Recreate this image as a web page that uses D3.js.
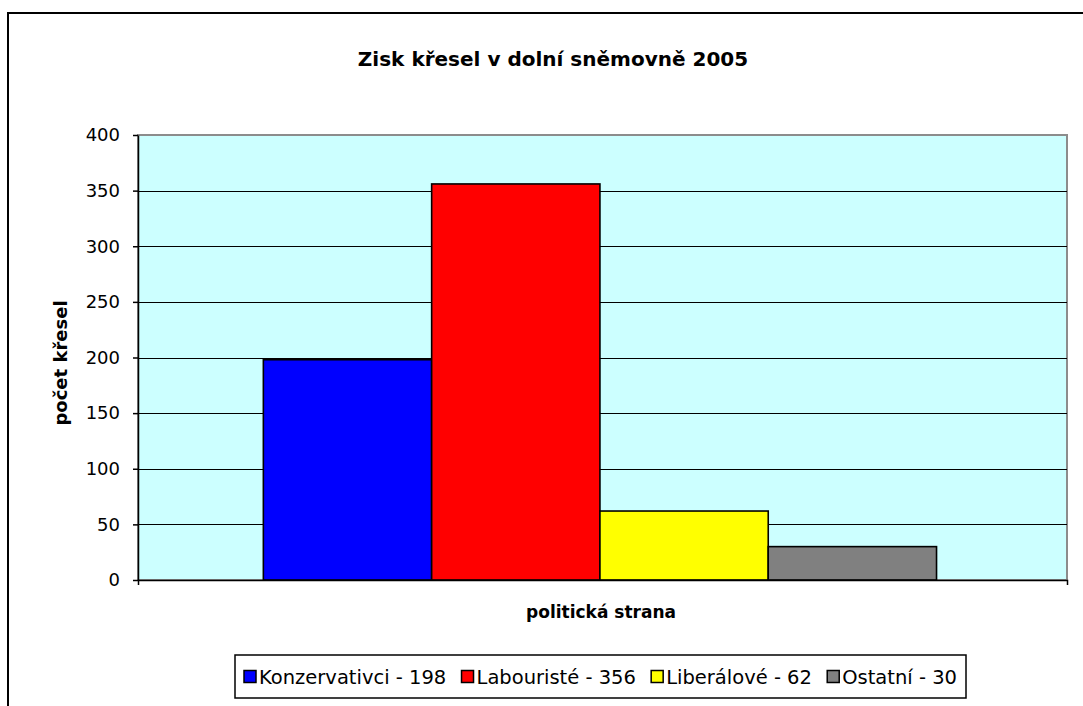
<!DOCTYPE html>
<html>
<head>
<meta charset="utf-8">
<script src="https://cdn.jsdelivr.net/npm/d3@7"></script>
<style>
    body { margin: 0; background: #fff; }
    text { font-family: "DejaVu Sans", sans-serif; fill: #000; }
</style>
</head>
<body>
<svg id="svg1" width="1083" height="706"></svg>
<script>
var parties = ["Konzervativci", "Labouristé", "Liberálové", "Ostatní"];
var seats = [198, 356, 62, 30];
var partyColors = ["#0000ff", "#ff0000", "#ffff00", "#808080"];
var categories = ["2005"];
var yTicks = [0, 50, 100, 150, 200, 250, 300, 350, 400];

var data = parties.map(function (p, i) {
    return { party: p, seats: seats[i], color: partyColors[i] };
});

var svg = d3.select("#svg1"),
    plot = { left: 138, right: 1067, top: 135, bottom: 580 };

// outer chart frame (cut off at right and bottom like the original)
svg.append("rect")
    .attr("x", 8).attr("y", 13)
    .attr("width", 1100).attr("height", 720)
    .attr("fill", "#fff")
    .attr("stroke", "#000")
    .attr("stroke-width", 2);

var y = d3.scaleLinear()
    .domain([0, 400])
    .range([plot.bottom, plot.top]);

var xCat = d3.scaleBand()
    .domain(categories)
    .range([plot.left, plot.right]);

var x = d3.scaleBand()
    .domain(parties)
    .range([plot.left, plot.right])
    .paddingInner(0)
    .paddingOuter(0.76)
    .align(0.49);

// plot background
svg.append("rect")
    .attr("x", plot.left)
    .attr("y", plot.top)
    .attr("width", plot.right - plot.left)
    .attr("height", plot.bottom - plot.top)
    .attr("fill", "#ccffff")
    .attr("stroke", "#8c8c8c")
    .attr("stroke-width", 2);

// gridlines
svg.append("g")
    .selectAll("line")
    .data(yTicks.filter(function (d) { return d > 0 && d < 400; }))
    .enter().append("line")
    .attr("x1", plot.left)
    .attr("x2", plot.right)
    .attr("y1", function (d) { return Math.round(y(d)) + 0.5; })
    .attr("y2", function (d) { return Math.round(y(d)) + 0.5; })
    .attr("stroke", "#000")
    .attr("stroke-width", 1);

// bars
svg.append("g")
    .selectAll(".bar")
    .data(data)
    .enter().append("rect")
    .attr("class", "bar")
    .attr("x", function (d) { return x(d.party); })
    .attr("width", x.bandwidth())
    .attr("y", function (d) { return y(d.seats); })
    .attr("height", function (d) { return plot.bottom - y(d.seats); })
    .attr("fill", function (d) { return d.color; })
    .attr("stroke", "#000")
    .attr("stroke-width", 1.6);

// y axis
var yAxis = svg.append("g")
    .attr("transform", "translate(" + plot.left + ",0)")
    .call(d3.axisLeft(y).tickValues(yTicks).tickSize(5).tickSizeOuter(0).tickPadding(13));
yAxis.selectAll("text")
    .style("font-size", "18px")
    .style("font-family", '"DejaVu Sans", sans-serif');
yAxis.selectAll("line, path").attr("stroke", "#000").attr("stroke-width", 1.5);

// x axis (single category, no label)
var xAxis = svg.append("g")
    .attr("transform", "translate(0," + plot.bottom + ")")
    .call(d3.axisBottom(xCat).tickSize(0).tickSizeOuter(5).tickFormat(""));
xAxis.selectAll("path").attr("stroke", "#000").attr("stroke-width", 1.5);

// title
svg.append("text")
    .attr("x", 553)
    .attr("y", 66)
    .attr("text-anchor", "middle")
    .style("font-size", "20px")
    .style("font-weight", "bold")
    .text("Zisk křesel v dolní sněmovně 2005");

// text label for the y axis
svg.append("text")
    .attr("transform", "translate(67,363) rotate(-90)")
    .attr("text-anchor", "middle")
    .style("font-size", "18px")
    .style("font-weight", "bold")
    .text("počet křesel");

// text label for the x axis
svg.append("text")
    .attr("x", 601)
    .attr("y", 618)
    .attr("text-anchor", "middle")
    .style("font-size", "17px")
    .style("font-weight", "bold")
    .text("politická strana");

// legend
var legend = { left: 235, right: 966, top: 655, bottom: 698 };
svg.append("rect")
    .attr("x", legend.left)
    .attr("y", legend.top)
    .attr("width", legend.right - legend.left)
    .attr("height", legend.bottom - legend.top)
    .attr("fill", "#fff")
    .attr("stroke", "#000")
    .attr("stroke-width", 1.5);

var items = svg.append("g").selectAll("g")
    .data(data)
    .enter().append("g");

items.append("rect")
    .attr("width", 12)
    .attr("height", 12)
    .attr("y", -6)
    .attr("fill", function (d) { return d.color; })
    .attr("stroke", "#000")
    .attr("stroke-width", 1.5);

items.append("text")
    .attr("x", 15)
    .attr("dy", "0.36em")
    .style("font-size", "19.5px")
    .text(function (d) { return d.party + " - " + d.seats; });

var widths = [];
items.each(function () { widths.push(this.getBBox().width); });
var startX = 244, endX = 957;
var gap = (endX - startX - d3.sum(widths)) / (widths.length - 1);
var cx = startX;
items.attr("transform", function (d, i) {
    var t = "translate(" + cx + "," + ((legend.top + legend.bottom) / 2) + ")";
    cx += widths[i] + gap;
    return t;
});
</script>
</body>
</html>
